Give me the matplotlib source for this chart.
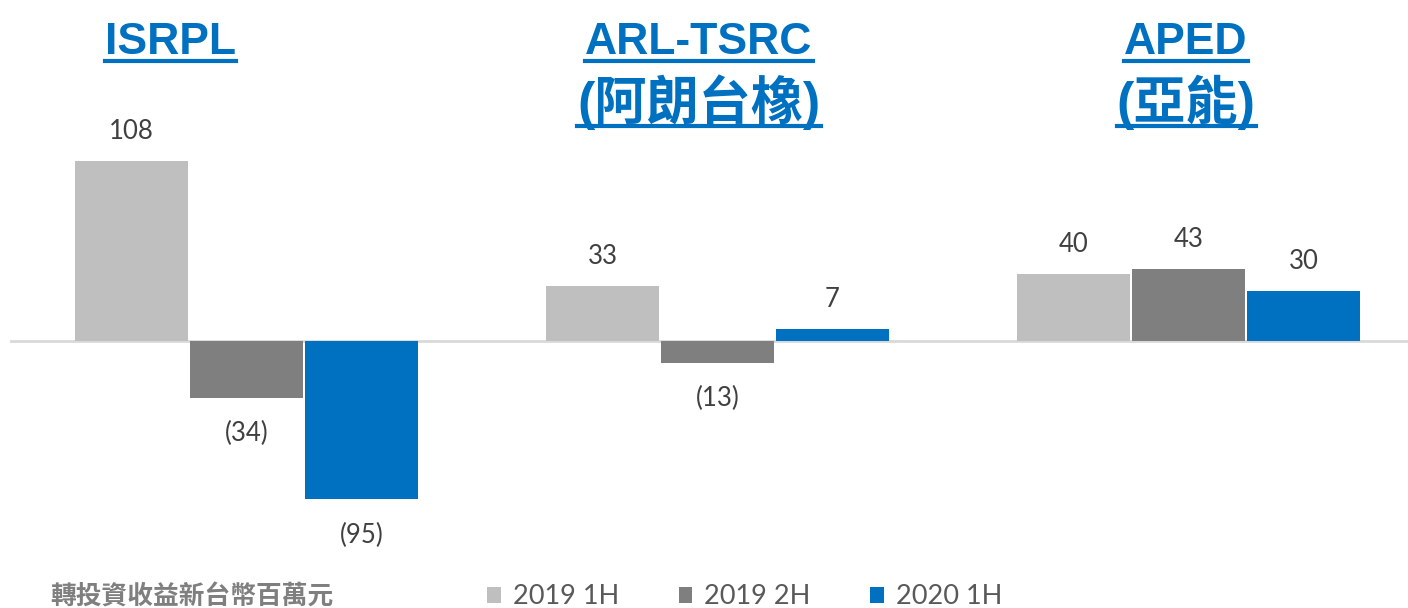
import matplotlib
matplotlib.use("Agg")
import matplotlib.pyplot as plt
from matplotlib.lines import Line2D
import numpy as np

groups = ["ISRPL", "ARL-TSRC", "APED"]
group_sub = ["", "(阿朗台橡)", "(亞能)"]
series = ["2019 1H", "2019 2H", "2020 1H"]
v2019_1h = [108, 33, 40]
v2019_2h = [-34, -13, 43]
v2020_1h = [-95, 7, 30]
unit_label = "轉投資收益新台幣百萬元"
colors = ["#BFBFBF", "#7F7F7F", "#0070C0"]

W, H = 1408, 608
fig = plt.figure(figsize=(W / 100, H / 100), dpi=100)
ax = fig.add_axes([0, 0, 1, 1])
ax.set_xlim(-246.5 / 471, (W - 246.5) / 471)
ax.set_ylim(-(H - 341) / 1.667, 341 / 1.667)
ax.axis("off")

x = np.arange(len(groups))
bw = 113 / 471
off = 115 / 471
num_font = ["Lato", "DejaVu Sans"]
handles = []
for i, (vals, c) in enumerate(zip([v2019_1h, v2019_2h, v2020_1h], colors)):
    b = ax.bar(x + (i - 1) * off, vals, width=bw, color=c, zorder=3, label=series[i])
    handles.append(b)
    for xi, v in zip(x + (i - 1) * off, vals):
        txt = f"{v}" if v >= 0 else f"({-v})"
        ax.annotate(txt, (xi, v), xytext=(0, 21.5 if v >= 0 else -26),
                    textcoords="offset points", ha="center", va="center",
                    fontsize=18.5, color="#404040", family=num_font)

ax.axhline(0, xmin=11 / W, xmax=1, color="#D9D9D9", lw=2, zorder=2)

title_font = ["Liberation Sans", "Noto Sans CJK TC"]
blue = "#0070C0"
fig.canvas.draw()
renderer = fig.canvas.get_renderer()

def utext(xc, ybase, s, size):
    t = fig.text(xc / W, 1 - ybase / H, s, ha="center", va="baseline",
                 fontsize=size, fontweight="bold", color=blue, family=title_font)
    bb = t.get_window_extent(renderer=renderer)
    yl = 1 - (ybase + 6.5) / H
    fig.add_artist(Line2D([bb.x0 / W, bb.x1 / W], [yl, yl], color=blue, lw=3,
                          transform=fig.transFigure))

title_x = [170, 699, 1186]
for gx, g, sub in zip(title_x, groups, group_sub):
    utext(gx, 54, g, 32)
    if sub:
        utext(gx, 119, sub, 37.5)

fig.text(50 / W, 1 - 597 / H, unit_label, ha="left", va="center", fontsize=18.5,
         fontweight="bold", color="#7F7F7F", family=["Noto Sans CJK TC"])

leg = fig.legend(handles=handles, labels=series, loc="center left",
                 bbox_to_anchor=(487 / W, 1 - 597 / H), ncol=3, frameon=False,
                 handlelength=0.5, handleheight=0.5, handletextpad=0.45,
                 columnspacing=2.2, borderaxespad=0, borderpad=0,
                 prop={"family": num_font, "size": 19.5})
for t in leg.get_texts():
    t.set_color("#595959")

fig.savefig("out.png", dpi=100)
